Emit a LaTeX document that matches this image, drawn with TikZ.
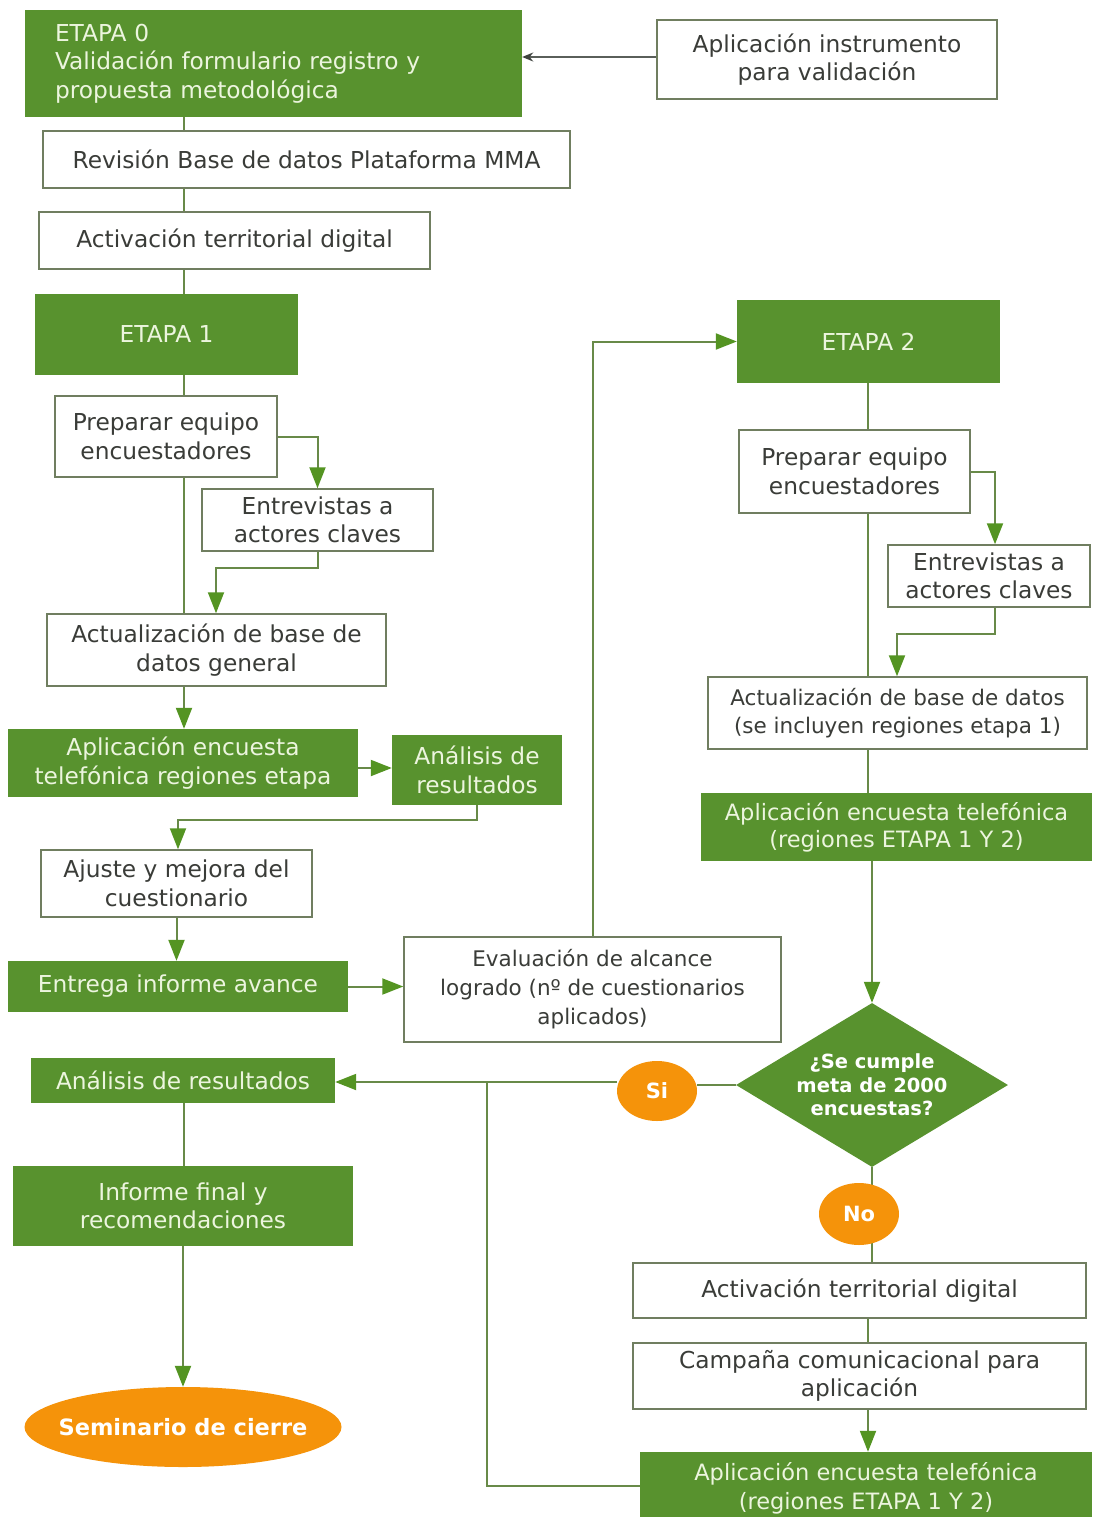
\documentclass[tikz,border=0pt]{standalone}
\usepackage{fontspec}
\setmainfont{DejaVu Sans}
\usetikzlibrary{arrows.meta,shapes.geometric}
\definecolor{gfill}{RGB}{88,146,46}
\definecolor{gtext}{RGB}{236,245,222}
\definecolor{bord}{RGB}{112,126,96}
\definecolor{conn}{RGB}{104,138,72}
\definecolor{tipc}{RGB}{84,148,34}
\definecolor{orng}{RGB}{245,147,10}
\definecolor{dtext}{RGB}{58,60,56}
\definecolor{darkl}{RGB}{90,95,90}
\pgfdeclarelayer{bg}
\pgfsetlayers{bg,main}
\tikzset{
 base/.style={inner sep=0pt, align=center, font=\fontsize{23.3}{28.5}\selectfont},
 wbox/.style={base, rectangle, draw=bord, line width=1.5pt, fill=white, text=dtext},
 gbox/.style={base, rectangle, fill=gfill, text=gtext},
 obal/.style={ellipse, fill=orng, text=white, inner sep=0pt, font=\bfseries\fontsize{21}{25}\selectfont},
 conline/.style={draw=conn, line width=2pt},
 arr/.style={conline, -{Triangle[width=16pt,length=21pt,color=tipc]}},
 darr/.style={draw=darkl, line width=1.6pt, -{Stealth[length=11pt,width=9pt,color=darkl!70!black]}},
}
\begin{document}
\begin{tikzpicture}[x=1pt,y=-1pt]
\begin{pgfonlayer}{bg}
\fill[white] (0,0) rectangle (1092,1517);
\end{pgfonlayer}
\useasboundingbox (0,0) rectangle (1092,1517);

% ---------- nodes ----------
\node[gbox, align=left, text width=437pt, inner xsep=30pt, minimum height=107pt] (e0) at (273.5,63.5)
  {ETAPA 0\\Validación formulario registro y\\propuesta metodológica};
\node[wbox, minimum width=340pt, minimum height=79pt] (apl) at (827,59.5) {Aplicación instrumento\\para validación};
\node[wbox, minimum width=527pt, minimum height=57pt] (rev) at (306.5,159.5) {Revisión Base de datos Plataforma MMA};
\node[wbox, minimum width=391pt, minimum height=57pt] (act) at (234.5,240.5) {Activación territorial digital};
\node[gbox, minimum width=263pt, minimum height=81pt] (e1) at (166.5,334.5) {ETAPA 1};
\node[wbox, minimum width=222pt, minimum height=81pt] (prep1) at (166,436.5) {Preparar equipo\\encuestadores};
\node[wbox, minimum width=231pt, minimum height=62pt] (ent1) at (317.5,520) {Entrevistas a\\actores claves};
\node[wbox, minimum width=339pt, minimum height=72pt] (act1) at (216.5,650) {Actualización de base de\\datos general};
\node[gbox, minimum width=350pt, minimum height=68pt] (apl1) at (183,763) {Aplicación encuesta\\telefónica regiones etapa};
\node[gbox, minimum width=170pt, minimum height=70pt] (ana1) at (477,770) {Análisis de\\resultados};
\node[wbox, minimum width=271pt, minimum height=67pt] (aju) at (176.5,883.5) {Ajuste y mejora del\\cuestionario};
\node[gbox, minimum width=340pt, minimum height=51pt] (entr) at (178,986.5) {Entrega informe avance};
\node[wbox, minimum width=377pt, minimum height=105pt, font=\fontsize{21.5}{29}\selectfont] (eval) at (592.5,989.5)
  {Evaluación de alcance\\logrado (nº de cuestionarios\\aplicados)};
\node[gbox, minimum width=263pt, minimum height=83pt] (e2) at (868.5,341.5) {ETAPA 2};
\node[wbox, minimum width=231pt, minimum height=83pt] (prep2) at (854.5,471.5) {Preparar equipo\\encuestadores};
\node[wbox, minimum width=202pt, minimum height=62pt] (ent2) at (989,576) {Entrevistas a\\actores claves};
\node[wbox, minimum width=379pt, minimum height=72pt, font=\fontsize{21.5}{28}\selectfont] (act2) at (897.5,713)
  {Actualización de base de datos\\(se incluyen regiones etapa 1)};
\node[gbox, minimum width=391pt, minimum height=68pt, font=\fontsize{22.5}{27}\selectfont] (apl2) at (896.5,827)
  {Aplicación encuesta telefónica\\(regiones ETAPA 1 Y 2)};
\node[diamond, fill=gfill, text=white, aspect=1.66, minimum width=272pt, minimum height=164pt, inner sep=0pt,
  align=center, font=\bfseries\fontsize{19.5}{23.5}\selectfont] (dia) at (872,1085) {¿Se cumple\\meta de 2000\\encuestas?};
\node[obal, minimum width=80pt, minimum height=60pt] (si) at (657,1091) {Si};
\node[gbox, minimum width=304pt, minimum height=45pt] (anaR) at (183,1080.5) {Análisis de resultados};
\node[gbox, minimum width=340pt, minimum height=80pt] (inf) at (183,1206) {Informe final y\\recomendaciones};
\node[obal, inner xsep=-18pt, minimum width=317pt, minimum height=80pt, font=\bfseries\fontsize{22.5}{27}\selectfont] (sem) at (183,1427) {Seminario de cierre};
\node[obal, minimum width=80pt, minimum height=62pt] (no) at (859,1214) {No};
\node[wbox, minimum width=453pt, minimum height=55pt] (act3) at (859.5,1290.5) {Activación territorial digital};
\node[wbox, minimum width=453pt, minimum height=66pt] (camp) at (859.5,1376) {Campaña comunicacional para\\aplicación};
\node[gbox, minimum width=452pt, minimum height=72pt, font=\fontsize{22.5}{29}\selectfont] (apl3) at (866,1488)
  {Aplicación encuesta telefónica\\(regiones ETAPA 1 Y 2)};

% ---------- helper coordinates ----------
\coordinate (L) at (184,0);
\coordinate (R) at (868,0);
\coordinate (D) at (872,0);
\coordinate (k0) at (0,57);
\coordinate (k1) at (216,568);
\coordinate (k2) at (0,768);
\coordinate (k3) at (178,820);
\coordinate (k4) at (995,0);
\coordinate (k5) at (897,634);
\coordinate (k6) at (0,1082);
\coordinate (k7) at (0,1486);
\coordinate (k8) at (487,1082);

% ---------- connectors ----------
\begin{pgfonlayer}{bg}
\draw[darr] (apl.west |- k0) -- (e0.east |- k0);
\draw[conline] (e0.south -| L) -- (rev.north -| L);
\draw[conline] (rev.south -| L) -- (act.north -| L);
\draw[conline] (act.south -| L) -- (e1.north -| L);
\draw[conline] (e1.south -| L) -- (prep1.north -| L);
\draw[conline] (prep1.south -| L) -- (act1.north -| L);
\draw[arr] (prep1.east) -| (ent1.north);
\draw[arr] (ent1.south) |- (k1) -- (act1.north -| k1);
\draw[arr] (act1.south -| L) -- (apl1.north -| L);
\draw[arr] (apl1.east |- k2) -- (ana1.west |- k2);
\draw[arr] (ana1.south) |- (k3) -- (aju.north -| k3);
\draw[arr] (aju.south) -- (aju.south |- entr.north);
\draw[arr] (entr.east) -- (entr.east -| eval.west);
\draw[arr] (eval.north) |- (e2.west);
\draw[conline] (e2.south -| R) -- (prep2.north -| R);
\draw[conline] (prep2.south -| R) -- (act2.north -| R);
\draw[arr] (prep2.east) -| (ent2.north -| k4);
\draw[arr] (ent2.south -| k4) |- (k5) -- (act2.north -| k5);
\draw[conline] (act2.south -| R) -- (apl2.north -| R);
\draw[arr] (apl2.south -| D) -- (dia.north);
\draw[conline] (dia.west) -- (dia.west -| si.east);
\draw[arr] (si.west |- k6) -- (anaR.east |- k6);
\draw[conline] (apl3.west |- k7) -| (k8);
\draw[conline] (anaR.south -| L) -- (inf.north -| L);
\draw[arr] (inf.south -| sem.north) -- (sem.north);
\draw[conline] (dia.south) -- (dia.south |- act3.north);
\draw[conline] (act3.south -| R) -- (camp.north -| R);
\draw[arr] (camp.south -| R) -- (apl3.north -| R);
\end{pgfonlayer}
\end{tikzpicture}
\end{document}
